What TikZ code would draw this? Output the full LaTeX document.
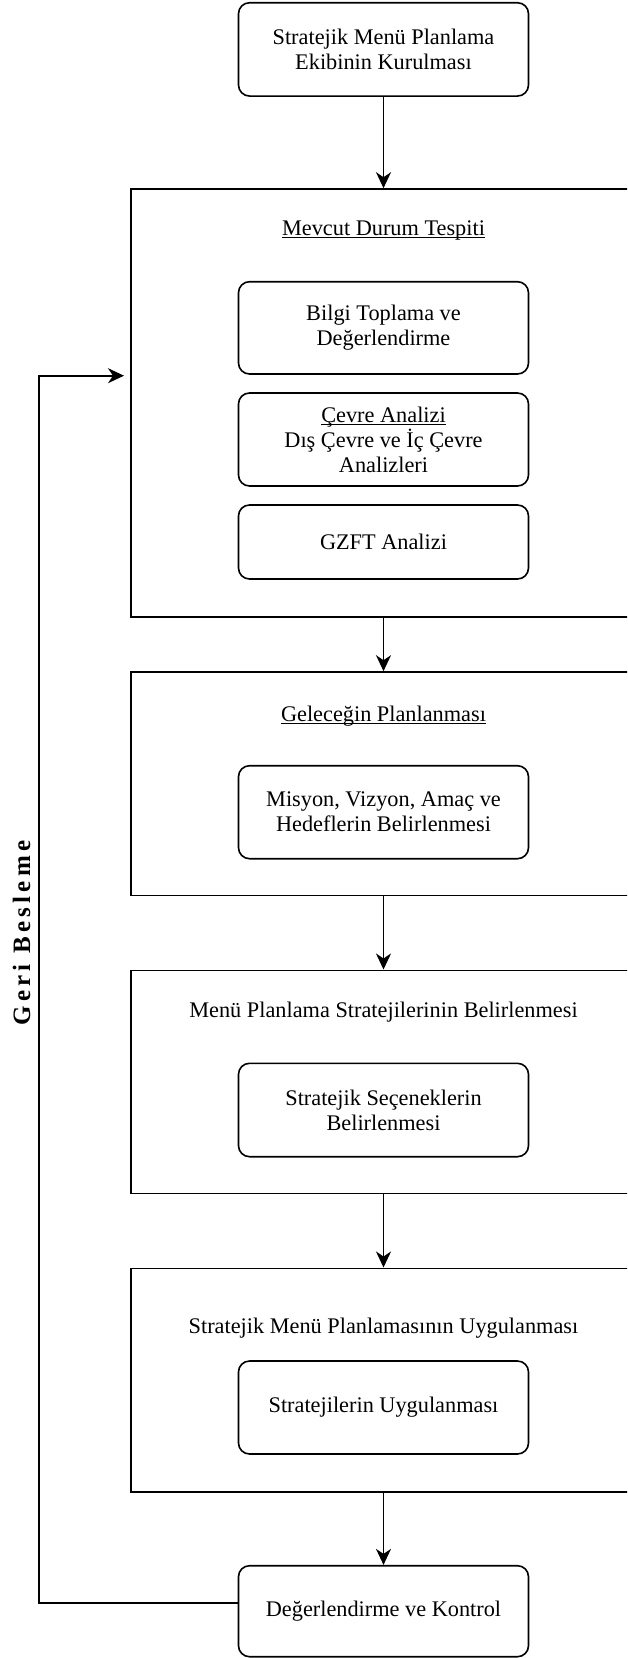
\documentclass[tikz,border=0pt]{standalone}
\usepackage{fontspec}
\setmainfont{Liberation Serif}
\usetikzlibrary{arrows.meta,calc}
% underline set close to the baseline, crossing descenders
\newsavebox{\ulbox}
\newcommand{\tightul}[1]{\sbox{\ulbox}{#1}\makebox[0pt][l]{\rule[-3pt]{\wd\ulbox}{1.1pt}}\usebox{\ulbox}}
\begin{document}
\begin{tikzpicture}[x=1pt,y=-1pt,
  every node/.style={font=\fontsize{22.3}{25}\selectfont, text=black},
  stepbox/.style={draw=black, line width=1.6pt, rounded corners=11pt,
    minimum width=290pt, align=center, inner sep=0pt},
  stage/.style={draw=black, line width=1.6pt, minimum width=504.6pt, inner sep=0pt},
  stagetitle/.style={anchor=base, inner sep=0pt},
  flow/.style={draw=black, line width=1.6pt,
    -{Stealth[length=16pt,width=15pt,inset=5pt]}},
  sidelabel/.style={rotate=90, inner sep=0pt,
    font=\bfseries\fontsize{25}{25}\selectfont\addfontfeature{LetterSpace=17}},
]
\useasboundingbox (0,0) rectangle (627,1658);
\clip (0,0) rectangle (627,1658);

% start
\node[stepbox, minimum height=93.3pt] (team) at (383.5,49.4)
  {Stratejik Menü Planlama\\Ekibinin Kurulması};

% stage 1: current situation
\node[stage, minimum height=427.7pt] (s1) at (383.5,402.85) {};
\node[stagetitle] (s1t) at (383.5,235) {\tightul{Mevcut Durum Tespiti}};
\node[stepbox, minimum height=92.3pt] (s1a) at (383.5,327.85)
  {Bilgi Toplama ve\\Değerlendirme};
\node[stepbox, minimum height=93pt] (s1b) at (383.5,439.5)
  {\tightul{Çevre Analizi}\\Dış Çevre ve İç Çevre\\Analizleri};
\node[stepbox, minimum height=74pt] (s1c) at (383.5,542) {GZFT Analizi};

% stage 2: planning the future
\node[stage, minimum height=223.3pt] (s2) at (383.5,783.65) {};
\node[stagetitle] (s2t) at (383.5,721) {\tightul{Geleceğin Planlanması}};
\node[stepbox, minimum height=93pt] (s2a) at (383.5,812.2)
  {Misyon, Vizyon, Amaç ve\\Hedeflerin Belirlenmesi};

% stage 3: strategies
\node[stage, minimum height=223pt] (s3) at (383.5,1081.8) {};
\node[stagetitle] (s3t) at (383.5,1017) {Menü Planlama Stratejilerinin Belirlenmesi};
\node[stepbox, minimum height=93.4pt] (s3a) at (383.5,1110)
  {Stratejik Seçeneklerin\\Belirlenmesi};

% stage 4: implementation
\node[stage, minimum height=223.4pt] (s4) at (383.5,1380) {};
\node[stagetitle] (s4t) at (383.5,1333.7) {Stratejik Menü Planlamasının Uygulanması};
\node[stepbox, minimum height=93pt] (s4a) at (383.5,1407.5)
  {Stratejilerin Uygulanması};

% end
\node[stepbox, minimum height=91pt] (eval) at (383.5,1611.2)
  {Değerlendirme ve Kontrol};

% main flow
\draw[flow] (team.south) -- (s1.north);
\draw[flow] (s1.south) -- (s2.north);
\draw[flow] (s2.south) -- (s3.north);
\draw[flow] (s3.south) -- (s4.north);
\draw[flow] (s4.south) -- (eval.north);

% feedback loop
\coordinate (fbout) at ([yshift=8.5pt]eval.west);
\coordinate (fbcorner) at (38.8,375.7);
\coordinate (fbin) at (124,375.7);
\draw[flow] (fbout) -| (fbcorner) -- (fbin);
\node[sidelabel] (fblabel) at (21.5,933) {Geri Besleme};
\end{tikzpicture}
\end{document}
